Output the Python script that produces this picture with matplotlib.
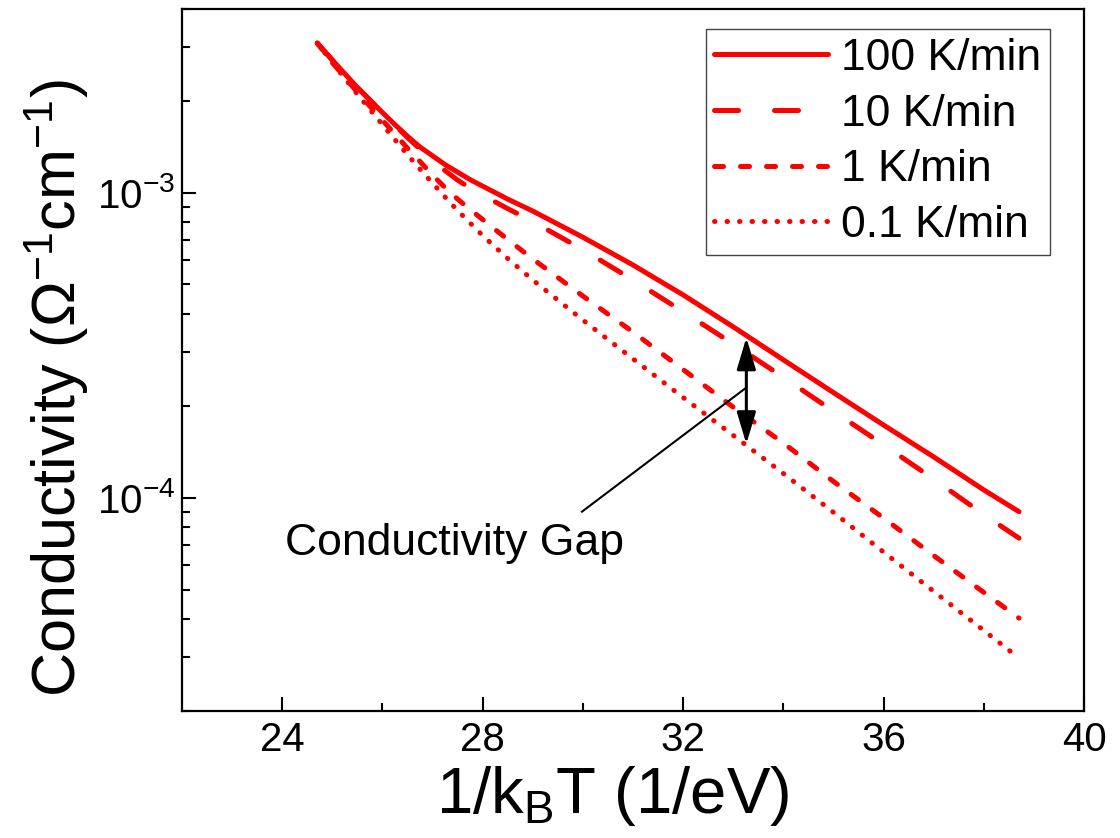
import numpy as np
import matplotlib
matplotlib.use("Agg")
import matplotlib.pyplot as plt

plt.rcParams['font.family'] = ['Liberation Sans', 'DejaVu Sans']
plt.rcParams['mathtext.fontset'] = 'custom'
plt.rcParams['mathtext.rm'] = 'Liberation Sans'
plt.rcParams['mathtext.it'] = 'Liberation Sans:italic'
plt.rcParams['mathtext.bf'] = 'Liberation Sans:bold'
plt.rcParams['mathtext.default'] = 'regular'

# 1/kBT (1/eV) and conductivity (1/(Ohm cm)) for each heating rate
inv_kT = [24.7, 25.0, 25.5, 26.0, 26.25, 26.5, 26.75, 27.0, 27.25, 27.5, 27.75, 28.0,
          28.5, 29.0, 30.0, 31.0, 32.0, 33.0, 34.0, 35.0, 36.0, 37.0, 38.0, 38.7]
sig_100 = [3.09e-3, 2.72e-3, 2.21e-3, 1.83e-3, 1.67e-3, 1.53e-3, 1.41e-3, 1.32e-3,
           1.235e-3, 1.167e-3, 1.103e-3, 1.05e-3, 9.52e-4, 8.70e-4, 7.14e-4, 5.79e-4,
           4.62e-4, 3.63e-4, 2.83e-4, 2.21e-4, 1.73e-4, 1.36e-4, 1.06e-4, 9.0e-5]
sig_10 = [3.09e-3, 2.72e-3, 2.21e-3, 1.83e-3, 1.663e-3, 1.514e-3, 1.388e-3, 1.278e-3,
          1.180e-3, 1.099e-3, 1.034e-3, 9.81e-4, 8.86e-4, 8.04e-4, 6.50e-4, 5.17e-4,
          4.07e-4, 3.19e-4, 2.48e-4, 1.92e-4, 1.49e-4, 1.15e-4, 8.80e-5, 7.37e-5]
sig_1 = [3.09e-3, 2.668e-3, 2.133e-3, 1.727e-3, 1.554e-3, 1.398e-3, 1.264e-3, 1.141e-3,
         1.038e-3, 9.52e-4, 8.80e-4, 8.16e-4, 7.02e-4, 6.06e-4, 4.58e-4, 3.49e-4,
         2.63e-4, 1.98e-4, 1.51e-4, 1.13e-4, 8.57e-5, 6.46e-5, 4.89e-5, 4.03e-5]
sig_01 = [3.09e-3, 2.668e-3, 2.101e-3, 1.670e-3, 1.491e-3, 1.331e-3, 1.194e-3, 1.074e-3,
          9.67e-4, 8.73e-4, 7.95e-4, 7.23e-4, 6.08e-4, 5.17e-4, 3.82e-4, 2.85e-4,
          2.13e-4, 1.60e-4, 1.20e-4, 8.95e-5, 6.63e-5, 4.93e-5, 3.67e-5, 2.98e-5]
rates = ["100 K/min", "10 K/min", "1 K/min", "0.1 K/min"]

fig = plt.figure(figsize=(11.2, 8.38), dpi=100)
ax = fig.add_axes([0.1625, 0.1516, 0.8055, 0.8377])

styles = ['-', (0, (4.8, 7.2)), (0, (1.8, 3.4)), (0, (0.1, 2.4))]
for sig, ls, lab in zip([sig_100, sig_10, sig_1, sig_01], styles, rates):
    ax.plot(inv_kT, sig, color='red', lw=3.6, ls=ls, label=lab,
            dash_capstyle='round', solid_capstyle='round')

ax.set_yscale('log')
ax.set_xlim(22, 40)
ax.set_ylim(2e-5, 4e-3)
ax.set_xticks([24, 28, 32, 36, 40])
ax.set_xticks([26, 30, 34, 38], minor=True)

# gap arrow between fastest and slowest rate
ax.annotate('', xy=(33.26, 3.35e-4), xytext=(33.26, 1.5e-4),
            arrowprops=dict(arrowstyle='<|-|>,head_length=0.97,head_width=0.29',
                            mutation_scale=20, lw=2.2, color='k', fc='k',
                            shrinkA=0, shrinkB=0))
ax.plot([29.98, 33.25], [9.0e-5, 2.29e-4], color='k', lw=1.5)
ax.text(24.06, 6.5e-5, 'Conductivity Gap', fontsize=32, ha='left', va='baseline')

ax.set_xlabel('1/k$_B$T (1/eV)', fontsize=47)
ax.set_ylabel('Conductivity (Ω$^{-1}$cm$^{-1}$)', fontsize=44)
ax.xaxis.label.set_x(0.477)
ax.yaxis.label.set_y(0.46)

ax.tick_params(which='both', direction='in', top=False, right=False, width=1.5)
ax.tick_params(which='major', length=10, labelsize=29)
ax.tick_params(which='minor', length=6)
ax.tick_params(axis='x', pad=7)
ax.tick_params(axis='y', pad=5)
for s in ax.spines.values():
    s.set_linewidth(1.6)

leg = ax.legend(loc='upper right', bbox_to_anchor=(0.9623, 0.9715), borderaxespad=0,
                fontsize=32, handlelength=2.55, handletextpad=0.3, labelspacing=0.33,
                borderpad=0.2, fancybox=False, framealpha=1)
leg.get_frame().set_edgecolor('#444444')
leg.get_frame().set_linewidth(1.0)

plt.savefig("out.png", dpi=100)
